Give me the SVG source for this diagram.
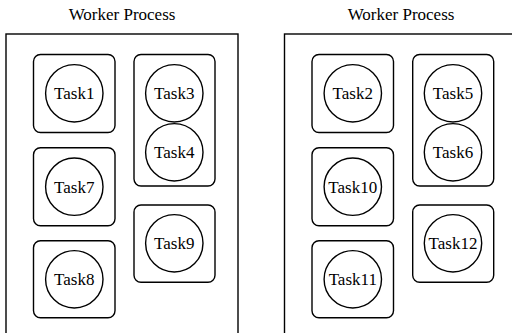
<svg xmlns="http://www.w3.org/2000/svg" width="512" height="333" viewBox="0 0 512 333">
  <style>
    .proc { fill: none; stroke: #000; stroke-width: 1.4; }
    .slot { fill: none; stroke: #000; stroke-width: 1.4; }
    .task { fill: #fff; stroke: #000; stroke-width: 1.4; }
    .lbl { font-size: 17px; fill: #000; text-anchor: middle; }
  </style>
  <rect width="512" height="333" fill="#fff"/>

  <g font-family="Liberation Serif, Times New Roman, serif">
  <!-- Worker process A -->
  <g id="worker-a">
    <text class="lbl" x="122" y="20">Worker Process</text>
    <rect class="proc" x="6" y="34" width="232" height="310"/>
    <g id="slot-a1">
      <rect class="slot" x="33.5" y="54.5" width="81.5" height="78" rx="7"/>
      <g id="task1"><circle class="task" cx="74.3" cy="93.3" r="28.7"/><text class="lbl" x="74.3" y="99.3">Task1</text></g>
    </g>
    <g id="slot-a2">
      <rect class="slot" x="33.5" y="147.7" width="81.5" height="78" rx="7"/>
      <g id="task7"><circle class="task" cx="74.3" cy="186.7" r="28.7"/><text class="lbl" x="74.3" y="192.7">Task7</text></g>
    </g>
    <g id="slot-a3">
      <rect class="slot" x="33.5" y="240.7" width="81.5" height="77" rx="7"/>
      <g id="task8"><circle class="task" cx="74.3" cy="279.3" r="28.7"/><text class="lbl" x="74.3" y="285.3">Task8</text></g>
    </g>
    <g id="slot-a4">
      <rect class="slot" x="134" y="54.5" width="81" height="131.5" rx="7"/>
      <g id="task3"><circle class="task" cx="174.3" cy="93.3" r="28.7"/><text class="lbl" x="174.3" y="99.3">Task3</text></g>
      <g id="task4"><circle class="task" cx="174.3" cy="152.3" r="28.7"/><text class="lbl" x="174.3" y="158.3">Task4</text></g>
    </g>
    <g id="slot-a5">
      <rect class="slot" x="134" y="205" width="81" height="77.3" rx="7"/>
      <g id="task9"><circle class="task" cx="174.3" cy="243.3" r="28.7"/><text class="lbl" x="174.3" y="249.3">Task9</text></g>
    </g>
  </g>

  <!-- Worker process B -->
  <g id="worker-b">
    <text class="lbl" x="401" y="20">Worker Process</text>
    <rect class="proc" x="284.5" y="34" width="232" height="310"/>
    <g id="slot-b1">
      <rect class="slot" x="312" y="54.5" width="81.5" height="78" rx="7"/>
      <g id="task2"><circle class="task" cx="352.8" cy="93.3" r="28.7"/><text class="lbl" x="352.8" y="99.3">Task2</text></g>
    </g>
    <g id="slot-b2">
      <rect class="slot" x="312" y="147.7" width="81.5" height="78" rx="7"/>
      <g id="task10"><circle class="task" cx="352.8" cy="186.7" r="28.7"/><text class="lbl" x="352.8" y="192.7">Task10</text></g>
    </g>
    <g id="slot-b3">
      <rect class="slot" x="312" y="240.7" width="81.5" height="77" rx="7"/>
      <g id="task11"><circle class="task" cx="352.8" cy="279.3" r="28.7"/><text class="lbl" x="352.8" y="285.3">Task11</text></g>
    </g>
    <g id="slot-b4">
      <rect class="slot" x="412.7" y="54.5" width="81" height="131.5" rx="7"/>
      <g id="task5"><circle class="task" cx="453" cy="93.3" r="28.7"/><text class="lbl" x="453" y="99.3">Task5</text></g>
      <g id="task6"><circle class="task" cx="453" cy="152.3" r="28.7"/><text class="lbl" x="453" y="158.3">Task6</text></g>
    </g>
    <g id="slot-b5">
      <rect class="slot" x="412.7" y="205" width="81" height="77.3" rx="7"/>
      <g id="task12"><circle class="task" cx="453" cy="243.3" r="28.7"/><text class="lbl" x="453" y="249.3">Task12</text></g>
    </g>
  </g>
  </g>

  <g id="connectors"/>
</svg>
